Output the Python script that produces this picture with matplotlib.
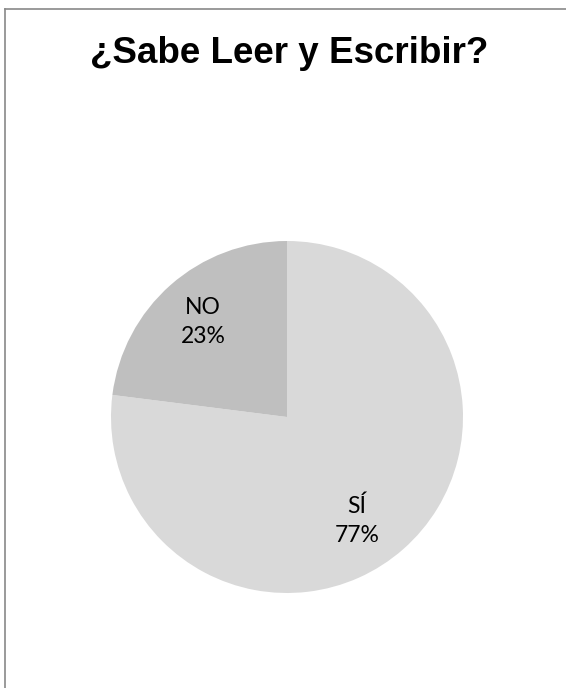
import matplotlib
matplotlib.use("Agg")
import matplotlib.pyplot as plt
import numpy as np
from matplotlib.lines import Line2D

categories = ["SÍ", "NO"]
values = [77, 23]
colors = ["#d9d9d9", "#bfbfbf"]
title = "¿Sabe Leer y Escribir?"

W, H = 566, 688
fig = plt.figure(figsize=(W / 100, H / 100), dpi=100)

# pie axes: centre (287, 417), radius 176 px
cx, cy, r = 287, 417, 176
ax = fig.add_axes([(cx - r) / W, (H - cy - r) / H, 2 * r / W, 2 * r / H])

names = iter(categories)
wedges, texts, autotexts = ax.pie(
    values,
    colors=colors,
    startangle=90,
    counterclock=False,
    autopct=lambda p: f"{next(names)}\n{p:.0f}%",
    pctdistance=0.72,
    textprops=dict(fontsize=16.5, family="Lato", color="black", linespacing=1.5),
)
# excel "best fit" pushes the big label a bit lower than the wedge middle
t = autotexts[0]
ang = np.deg2rad(-56)
t.set_position((0.71 * np.cos(ang), 0.71 * np.sin(ang)))

ax.set_xlim(-1, 1)
ax.set_ylim(-1, 1)
ax.axis("off")

fig.text(289 / W, 1 - 63 / H, title, ha="center", va="baseline",
         fontsize=26.5, fontweight="bold", family="Liberation Sans")

# outer chart border (only top and left show in the crop)
fig.add_artist(Line2D([5 / W, 1], [1 - 9 / H, 1 - 9 / H], color="#898989", lw=1.2))
fig.add_artist(Line2D([5 / W, 5 / W], [0, 1 - 9 / H], color="#898989", lw=1.2))

fig.savefig("out.png", dpi=100)
